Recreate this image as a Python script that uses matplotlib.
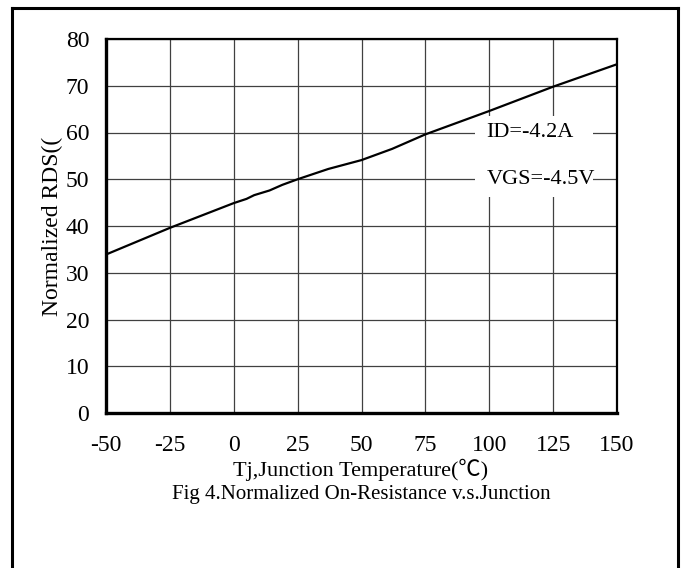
import matplotlib.pyplot as plt
from matplotlib.patches import Rectangle
from matplotlib.lines import Line2D

# Tj (deg C) vs normalized RDS(on)
temps = [-50, -25, 0, 5, 8, 14, 19, 25, 37, 50, 62, 75, 100, 125, 150]
rds = [33.9, 39.6, 44.9, 45.8, 46.6, 47.6, 48.8, 50.0, 52.2, 54.1, 56.5, 59.6, 64.6, 69.8, 74.6]

x_ticks = [-50, -25, 0, 25, 50, 75, 100, 125, 150]
y_ticks = [0, 10, 20, 30, 40, 50, 60, 70, 80]

SERIF = ['Liberation Serif', 'Noto Sans CJK SC', 'DejaVu Sans']
plt.rcParams['font.family'] = SERIF
plt.rcParams['axes.unicode_minus'] = False

fig = plt.figure(figsize=(6.83, 5.68), dpi=100)
W, H = 683, 568

# outer frame (left, top, right only)
fig.add_artist(Line2D([12 / W, 678 / W], [1 - 8 / H, 1 - 8 / H], color='black', lw=2.2))
fig.add_artist(Line2D([12 / W, 12 / W], [0, 1 - 8 / H], color='black', lw=2.2))
fig.add_artist(Line2D([678 / W, 678 / W], [0, 1 - 8 / H], color='black', lw=2.2))

ax = fig.add_axes([106 / W, 1 - 413 / H, 511 / W, 374 / H])
ax.plot(temps, rds, color='black', lw=1.6, zorder=3)

ax.set_xlim(-50, 150)
ax.set_ylim(0, 80)
ax.set_xticks(x_ticks)
ax.set_yticks(y_ticks)
ax.set_axisbelow(True)
ax.grid(True, color='#404040', lw=0.9)
ax.tick_params(length=0, labelsize=17)
ax.tick_params(axis='x', pad=16)
ax.tick_params(axis='y', pad=12)
for s in ax.spines.values():
    s.set_linewidth(1.6)
ax.spines['left'].set_linewidth(2.4)
ax.spines['bottom'].set_linewidth(2.4)

# white box behind the condition labels
ax.add_patch(Rectangle((94.4, 46.3), 46.2, 17.2, facecolor='white',
                       edgecolor='none', zorder=1.5))
ax.text(99, 60, 'ID=-4.2A', fontsize=16, ha='left', va='center', zorder=4)
ax.text(99, 50, 'VGS=-4.5V', fontsize=16, ha='left', va='center', zorder=4)

ax.set_ylabel('Normalized RDS((', fontsize=17, labelpad=2)

fig.text(361 / W, 1 - 470 / H, 'Tj,Junction Temperature(℃)', fontsize=16,
         ha='center', va='center', family=SERIF)
fig.text(361 / W, 1 - 494 / H, 'Fig 4.Normalized On-Resistance v.s.Junction',
         fontsize=15, ha='center', va='center', family=SERIF)

fig.savefig('out.png', dpi=100)
